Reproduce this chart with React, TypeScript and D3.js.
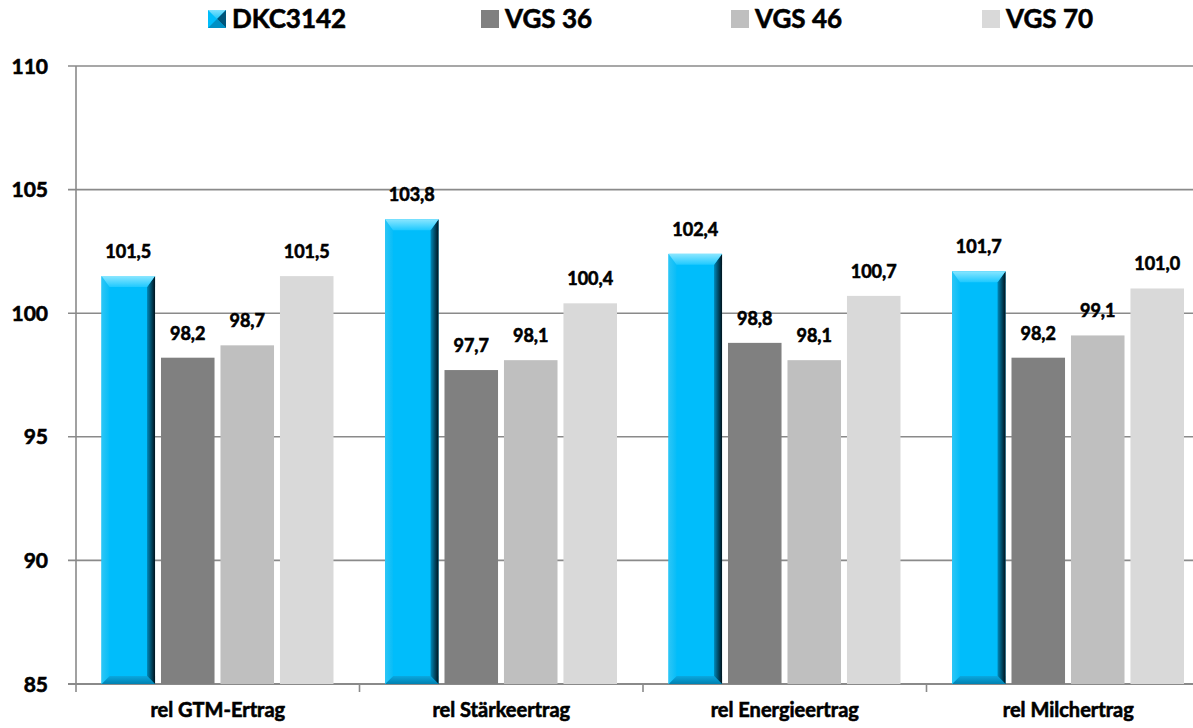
import React, { useEffect } from "react";
import * as d3 from "d3";

const categories = ["rel GTM-Ertrag", "rel Stärkeertrag", "rel Energieertrag", "rel Milchertrag"];
const seriesNames = ["DKC3142", "VGS 36", "VGS 46", "VGS 70"];
const dkc3142 = [101.5, 103.8, 102.4, 101.7];
const vgs36 = [98.2, 97.7, 98.8, 98.2];
const vgs46 = [98.7, 98.1, 98.1, 99.1];
const vgs70 = [101.5, 100.4, 100.7, 101.0];
const yTicks = [85, 90, 95, 100, 105, 110];

const seriesValues = [dkc3142, vgs36, vgs46, vgs70];
const colors = ["#00bfff", "#808080", "#bfbfbf", "#d9d9d9"];
const legendX = [208, 481, 731, 982];

const FONT = "Lato, 'Open Sans', sans-serif";
const W = 1193;
const H = 728;
const left = 76;
const top = 66;
const bottom = 684;
const plotRight = 1210; // plot area runs past the window edge, as in the reference

const fmt = (v: number) => v.toFixed(1).replace(".", ",");

// heavier text, closer to the bold face of the original
const textStyle = {
  fontFamily: FONT,
  fontWeight: 700,
  fill: "#000",
  stroke: "#000",
  strokeWidth: 0.6,
} as const;

function BevelBar({ x, y, w, h }: { x: number; y: number; w: number; h: number }) {
  const b = Math.min(11, w / 4, h / 2);
  const bs = Math.min(8, w / 4, h / 2);
  return (
    <g>
      <rect x={x} y={y} width={w} height={h} fill="#00bdfb" />
      <polygon
        points={`${x},${y + h} ${x + w},${y + h} ${x + w - bs},${y + h - bs} ${x + bs},${y + h - bs}`}
        fill="url(#blueBottom)"
      />
      <polygon
        points={`${x},${y} ${x + bs},${y + b} ${x + bs},${y + h - bs} ${x},${y + h}`}
        fill="url(#blueLeft)"
      />
      <polygon
        points={`${x + w},${y} ${x + w},${y + h} ${x + w - bs},${y + h - bs} ${x + w - bs},${y + b}`}
        fill="url(#blueRight)"
      />
      <polygon
        points={`${x},${y} ${x + w},${y} ${x + w - bs},${y + b} ${x + bs},${y + b}`}
        fill="url(#blueTop)"
      />
    </g>
  );
}

export default function App() {
  useEffect(() => {
    document.body.style.margin = "0";
  }, []);

  const y = d3.scaleLinear().domain([85, 110]).range([bottom, top]);
  const x0 = d3.scaleBand<string>().domain(categories).range([left, plotRight]).padding(0);
  const gw = x0.bandwidth();
  const x1 = d3
    .scaleBand<string>()
    .domain(seriesNames)
    .range([25.5, gw - 26])
    .paddingInner(0.1)
    .paddingOuter(0);
  const bw = x1.bandwidth();

  const boundaries = categories.map((c) => x0(c) as number).concat([plotRight]);

  return (
    <svg width={W} height={H} style={{ display: "block", position: "absolute", left: 0, top: 0 }}>
      <defs>
        <linearGradient id="blueTop" x1="0" y1="0" x2="0" y2="1">
          <stop offset="0" stopColor="#8ae6ff" />
          <stop offset="1" stopColor="#1ec9ff" />
        </linearGradient>
        <linearGradient id="blueLeft" x1="0" y1="0" x2="1" y2="0">
          <stop offset="0" stopColor="#2cc6f6" />
          <stop offset="1" stopColor="#07bdf8" />
        </linearGradient>
        <linearGradient id="blueRight" x1="0" y1="0" x2="1" y2="0">
          <stop offset="0" stopColor="#0088b8" />
          <stop offset="1" stopColor="#00121c" />
        </linearGradient>
        <linearGradient id="blueBottom" x1="0" y1="0" x2="0" y2="1">
          <stop offset="0" stopColor="#0aa8e0" />
          <stop offset="1" stopColor="#0080b0" />
        </linearGradient>
        <linearGradient id="legTop" x1="0" y1="0" x2="0" y2="1">
          <stop offset="0" stopColor="#7fe2ff" />
          <stop offset="1" stopColor="#20c4f6" />
        </linearGradient>
      </defs>
      <rect width={W} height={H} fill="#ffffff" />

      {/* gridlines */}
      {yTicks.map((t) => (
        <line
          key={t}
          x1={left - 8}
          x2={plotRight}
          y1={y(t)}
          y2={y(t)}
          stroke="#8a8a8a"
          strokeWidth={t === 85 ? 2 : 1.6}
        />
      ))}
      <line x1={left} x2={left} y1={top} y2={bottom + 8} stroke="#8a8a8a" strokeWidth={1.6} />
      {boundaries.slice(1).map((bx, i) => (
        <line key={i} x1={bx} x2={bx} y1={bottom} y2={bottom + 8} stroke="#8a8a8a" strokeWidth={1.6} />
      ))}

      {/* y tick labels */}
      {yTicks.map((t) => (
        <text key={t} x={48} y={y(t)} dy="0.36em" textAnchor="end" fontSize={21} style={textStyle}>
          {t}
        </text>
      ))}

      {/* bars */}
      {categories.map((c, ci) => (
        <g key={c} transform={`translate(${x0(c)},0)`}>
          {seriesNames.map((s, si) => {
            const v = seriesValues[si][ci];
            const bx = x1(s) as number;
            const by = y(v);
            const bh = bottom - by;
            return (
              <g key={s}>
                {si === 0 ? (
                  <BevelBar x={bx} y={by} w={bw} h={bh} />
                ) : (
                  <rect x={bx} y={by} width={bw} height={bh} fill={colors[si]} />
                )}
                <text x={bx + bw / 2} y={by - 18} textAnchor="middle" fontSize={18} style={textStyle}>
                  {fmt(v)}
                </text>
              </g>
            );
          })}
          <text x={gw / 2} y={717} textAnchor="middle" fontSize={20} style={textStyle}>
            {c}
          </text>
        </g>
      ))}

      {/* legend */}
      {seriesNames.map((s, i) => {
        const lx = legendX[i];
        const ly = 10;
        const sz = 18;
        return (
          <g key={s}>
            {i === 0 ? (
              <g>
                <rect x={lx} y={ly} width={sz} height={sz} fill="#00bdfb" />
                <polygon points={`${lx},${ly} ${lx + sz},${ly} ${lx + sz / 2},${ly + sz / 2}`} fill="url(#legTop)" />
                <polygon points={`${lx + sz},${ly} ${lx + sz},${ly + sz} ${lx + sz / 2},${ly + sz / 2}`} fill="#00557a" />
                <polygon points={`${lx},${ly + sz} ${lx + sz},${ly + sz} ${lx + sz / 2},${ly + sz / 2}`} fill="#0090c4" />
              </g>
            ) : (
              <rect x={lx} y={ly} width={sz} height={sz} fill={colors[i]} />
            )}
            <text x={lx + sz + 6} y={ly + sz} fontSize={26} style={textStyle}>
              {s}
            </text>
          </g>
        );
      })}
    </svg>
  );
}
